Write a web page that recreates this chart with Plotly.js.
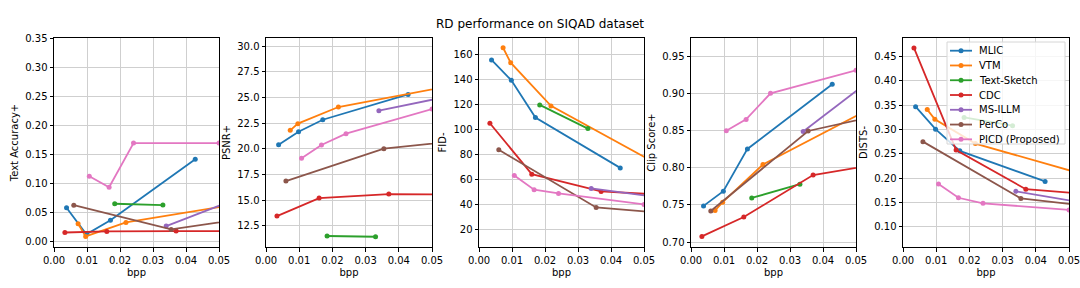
<!DOCTYPE html>
<html><head><meta charset="utf-8">
<script src="https://cdn.plot.ly/plotly-3.0.1.min.js"></script>
<style>html,body{margin:0;padding:0;background:#fff}#chart{width:1080px;height:288px}</style>
</head><body><div id="chart"></div>
<script>
// Methods and colours
const methods = ['MLIC','VTM','Text-Sketch','CDC','MS-ILLM','PerCo','PICD (Proposed)'];
const colors = ['#1f77b4','#ff7f0e','#2ca02c','#d62728','#9467bd','#8c564b','#e377c2'];

// bpp per method (last point of some methods lies beyond the 0.05 axis limit)
const bppMLIC = [0.0038, 0.0098, 0.0171, 0.0428];
const bppVTM = [0.0073, 0.0096, 0.0218, 0.060];
const bppTextSketch = [0.0184, 0.0330];
const bppCDC = [0.0033, 0.0160, 0.0370, 0.060];
const bppMSILLM = [0.0340, 0.060];
const bppPerCo = [0.0060, 0.0355, 0.060];
const bppPICD = [0.0107, 0.0167, 0.0241, 0.0500];

// Text Accuracy+
const taMLIC = [0.0587, 0.013, 0.037, 0.142];
const taVTM = [0.031, 0.0092, 0.0333, 0.069];
const taTextSketch = [0.0655, 0.0632];
const taCDC = [0.016, 0.0178, 0.0184, 0.0184];
const taMSILLM = [0.027, 0.084];
const taPerCo = [0.063, 0.0213, 0.0416];
const taPICD = [0.113, 0.094, 0.170, 0.170];

// PSNR+
const psnrMLIC = [20.39, 21.66, 22.82, 25.29];
const psnrVTM = [21.79, 22.44, 24.06, 26.39];
const psnrTextSketch = [11.50, 11.43];
const psnrCDC = [13.44, 15.19, 15.58, 15.53];
const psnrMSILLM = [23.70, 25.44];
const psnrPerCo = [16.85, 20.00, 20.85];
const psnrPICD = [19.06, 20.36, 21.46, 23.86];

// FID-
const fidMLIC = [155.5, 139.2, 109.3, 69.0];
const fidVTM = [165.3, 153.3, 118.7, 63.4];
const fidTextSketch = [119.5, 100.5];
const fidCDC = [104.8, 64.0, 50.1, 46.9];
const fidMSILLM = [52.5, 43.4];
const fidPerCo = [83.5, 37.3, 31.9];
const fidPICD = [62.9, 51.5, 48.5, 39.7];

// Clip Score+
const clipMLIC = [0.7487, 0.7685, 0.8255, 0.9127];
const clipVTM = [0.7425, 0.7537, 0.8045, 0.8932];
const clipTextSketch = [0.7594, 0.7779];
const clipCDC = [0.7076, 0.7337, 0.7903, 0.8075];
const clipMSILLM = [0.849, 0.9372];
const clipPerCo = [0.7418, 0.8497, 0.8739];
const clipPICD = [0.850, 0.8653, 0.9005, 0.9315];

// DISTS-
const distsMLIC = [0.347, 0.3007, 0.256, 0.193];
const distsVTM = [0.341, 0.321, 0.271, 0.1965];
const distsTextSketch = [0.325, 0.308];
const distsCDC = [0.468, 0.2576, 0.177, 0.1646];
const distsMSILLM = [0.1727, 0.1423];
const distsPerCo = [0.275, 0.158, 0.1394];
const distsPICD = [0.1876, 0.1594, 0.148, 0.1344];

const yTitles = ['Text Accuracy+','PSNR+','FID-','Clip Score+','DISTS-'];
const xTicks = [0, 0.01, 0.02, 0.03, 0.04, 0.05];
const xTickText = ['0.00','0.01','0.02','0.03','0.04','0.05'];

const bppAll = [bppMLIC, bppVTM, bppTextSketch, bppCDC, bppMSILLM, bppPerCo, bppPICD];
const metrics = [
  [taMLIC, taVTM, taTextSketch, taCDC, taMSILLM, taPerCo, taPICD],
  [psnrMLIC, psnrVTM, psnrTextSketch, psnrCDC, psnrMSILLM, psnrPerCo, psnrPICD],
  [fidMLIC, fidVTM, fidTextSketch, fidCDC, fidMSILLM, fidPerCo, fidPICD],
  [clipMLIC, clipVTM, clipTextSketch, clipCDC, clipMSILLM, clipPerCo, clipPICD],
  [distsMLIC, distsVTM, distsTextSketch, distsCDC, distsMSILLM, distsPerCo, distsPICD]
];

const W = 1080, H = 288;
const xPix = [[54,219],[266,432],[479,644],[691,856],[903,1069]];
const yDom = [1-247/H, 1-38/H];
const yRanges = [[-0.009,0.351],[10.43,30.78],[5.6,173.1],[0.6933,0.975],[0.058,0.4885]];
const yDtick = [0.05, 2.5, 20, 0.05, 0.05];
const yFmt = ['.2f','.1f','d','.2f','.2f'];

const FAM = 'DejaVu Sans, sans-serif';
const traces = [];
const shapes = [];
const annotations = [{text:'RD performance on SIQAD dataset', xref:'paper', yref:'paper',
  x:0.5, y:1-24/H, xanchor:'center', yanchor:'middle', showarrow:false,
  font:{family:FAM, size:12, color:'#000'}}];

const layout = {
  width: W, height: H,
  margin: {l:0, r:0, t:0, b:0},
  paper_bgcolor:'#fff', plot_bgcolor:'#fff',
  font: {family:FAM, size:10, color:'#000'},
  showlegend: false,
  shapes: shapes,
  annotations: annotations
};

for (let p = 0; p < 5; p++) {
  const sfx = p === 0 ? '' : String(p+1);
  const axCommon = {showline:true, mirror:true, linecolor:'#000', linewidth:1,
    ticks:'outside', ticklen:3.5, tickwidth:1, tickcolor:'#000',
    showgrid:true, gridcolor:'#cfcfcf', gridwidth:1, zeroline:false,
    ticklabeloverflow:'allow',
    tickfont:{family:FAM, size:10, color:'#000'}};
  layout['xaxis'+sfx] = Object.assign({}, axCommon, {
    domain:[xPix[p][0]/W, xPix[p][1]/W], range:[0,0.05],
    tickvals:xTicks, ticktext:xTickText, anchor:'y'+sfx,
    title:{text:'bpp', font:{family:FAM, size:10}, standoff:4}
  });
  layout['yaxis'+sfx] = Object.assign({}, axCommon, {
    domain:yDom, range:yRanges[p], dtick:yDtick[p], tick0:0, tickformat:yFmt[p],
    anchor:'x'+sfx,
    title:{text:yTitles[p], font:{family:FAM, size:10}, standoff:4}
  });
  for (let m = 0; m < methods.length; m++) {
    traces.push({
      type:'scatter', mode:'lines+markers',
      x: bppAll[m], y: metrics[p][m],
      xaxis:'x'+sfx, yaxis:'y'+sfx,
      name: methods[m],
      line:{color:colors[m], width:1.8},
      marker:{color:colors[m], size:5}
    });
  }
}

// Legend box (matplotlib style) inside the last panel
const px = v => v / W, py = v => 1 - v / H;
shapes.push({type:'rect', xref:'paper', yref:'paper', layer:'above',
  x0:px(947), x1:px(1065), y0:py(144), y1:py(42),
  fillcolor:'rgba(255,255,255,0.8)', line:{color:'#d6d6d6', width:1}});
for (let m = 0; m < methods.length; m++) {
  const yy = 50.7 + m * 14.77;
  shapes.push({type:'line', xref:'paper', yref:'paper', layer:'above',
    x0:px(950), x1:px(972), y0:py(yy), y1:py(yy), line:{color:colors[m], width:1.8}});
  shapes.push({type:'circle', xref:'paper', yref:'paper', layer:'above',
    x0:px(958.5), x1:px(963.5), y0:py(yy+2.5), y1:py(yy-2.5),
    fillcolor:colors[m], line:{color:colors[m], width:0}});
  annotations.push({text:methods[m], xref:'paper', yref:'paper', x:px(976.5), y:py(yy),
    xanchor:'left', yanchor:'middle', showarrow:false,
    font:{family:FAM, size:10, color:'#000'}});
}

Plotly.newPlot('chart', traces, layout, {staticPlot:true, displayModeBar:false});
</script></body></html>
